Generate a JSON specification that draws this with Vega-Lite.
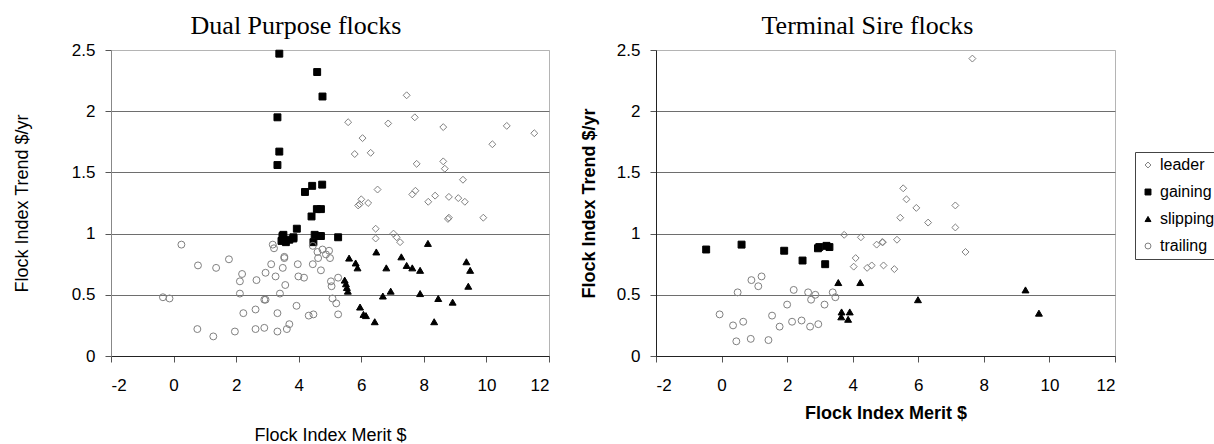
{
  "$schema": "https://vega.github.io/schema/vega-lite/v6.json",
  "padding": {"left": 12, "top": 12, "right": 0, "bottom": 0},
  "background": "white",
  "config": {
    "font": "Liberation Sans",
    "view": {"stroke": "#b4b4b4", "strokeWidth": 1},
    "title": {"font": "Liberation Serif", "fontSize": 26, "fontWeight": "normal", "color": "black", "anchor": "middle", "frame": "group", "offset": 2},
    "axis": {"labelFont": "Liberation Sans", "labelFontSize": 17, "labelColor": "black", "titleFont": "Liberation Sans", "titleFontSize": 18, "titleColor": "black", "titleFontWeight": "normal", "tickColor": "#555", "tickSize": 6, "domainColor": "#444", "labelPadding": 10},
    "axisX": {"labelPadding": 15},
    "legend": {"labelFont": "Liberation Sans", "labelFontSize": 16, "labelColor": "black"}
  },
  "data": {"values": [
    {"panel":"DP","group":"gaining","merit":3.38,"trend":2.47},{"panel":"DP","group":"gaining","merit":4.59,"trend":2.32},{"panel":"DP","group":"gaining","merit":4.76,"trend":2.12},{"panel":"DP","group":"gaining","merit":3.32,"trend":1.95},{"panel":"DP","group":"gaining","merit":3.38,"trend":1.67},{"panel":"DP","group":"gaining","merit":3.32,"trend":1.56},{"panel":"DP","group":"gaining","merit":4.2,"trend":1.34},{"panel":"DP","group":"gaining","merit":4.43,"trend":1.39},{"panel":"DP","group":"gaining","merit":4.75,"trend":1.4},{"panel":"DP","group":"gaining","merit":4.41,"trend":1.14},{"panel":"DP","group":"gaining","merit":4.58,"trend":1.2},{"panel":"DP","group":"gaining","merit":4.71,"trend":1.2},{"panel":"DP","group":"gaining","merit":3.51,"trend":0.99},{"panel":"DP","group":"gaining","merit":3.83,"trend":0.97},{"panel":"DP","group":"gaining","merit":3.94,"trend":1.04},{"panel":"DP","group":"gaining","merit":4.51,"trend":0.99},{"panel":"DP","group":"gaining","merit":3.48,"trend":0.98},{"panel":"DP","group":"gaining","merit":3.59,"trend":0.93},{"panel":"DP","group":"gaining","merit":3.83,"trend":0.96},{"panel":"DP","group":"gaining","merit":4.47,"trend":0.93},{"panel":"DP","group":"gaining","merit":4.65,"trend":0.98},{"panel":"DP","group":"gaining","merit":4.71,"trend":0.98},{"panel":"DP","group":"gaining","merit":5.26,"trend":0.97},{"panel":"DP","group":"gaining","merit":3.45,"trend":0.94},{"panel":"DP","group":"gaining","merit":3.7,"trend":0.95},
    {"panel":"DP","group":"leader","merit":7.45,"trend":2.13},{"panel":"DP","group":"leader","merit":5.58,"trend":1.91},{"panel":"DP","group":"leader","merit":6.86,"trend":1.9},{"panel":"DP","group":"leader","merit":7.71,"trend":1.95},{"panel":"DP","group":"leader","merit":8.62,"trend":1.87},{"panel":"DP","group":"leader","merit":10.65,"trend":1.88},{"panel":"DP","group":"leader","merit":11.53,"trend":1.82},{"panel":"DP","group":"leader","merit":6.04,"trend":1.78},{"panel":"DP","group":"leader","merit":5.79,"trend":1.65},{"panel":"DP","group":"leader","merit":6.3,"trend":1.66},{"panel":"DP","group":"leader","merit":10.19,"trend":1.73},{"panel":"DP","group":"leader","merit":7.77,"trend":1.57},{"panel":"DP","group":"leader","merit":8.62,"trend":1.59},{"panel":"DP","group":"leader","merit":8.67,"trend":1.53},{"panel":"DP","group":"leader","merit":9.25,"trend":1.44},{"panel":"DP","group":"leader","merit":6.52,"trend":1.36},{"panel":"DP","group":"leader","merit":7.63,"trend":1.32},{"panel":"DP","group":"leader","merit":7.73,"trend":1.35},{"panel":"DP","group":"leader","merit":6.0,"trend":1.28},{"panel":"DP","group":"leader","merit":5.9,"trend":1.23},{"panel":"DP","group":"leader","merit":6.22,"trend":1.25},{"panel":"DP","group":"leader","merit":5.95,"trend":1.24},{"panel":"DP","group":"leader","merit":8.14,"trend":1.26},{"panel":"DP","group":"leader","merit":8.36,"trend":1.31},{"panel":"DP","group":"leader","merit":8.8,"trend":1.3},{"panel":"DP","group":"leader","merit":9.1,"trend":1.29},{"panel":"DP","group":"leader","merit":9.31,"trend":1.26},{"panel":"DP","group":"leader","merit":8.77,"trend":1.12},{"panel":"DP","group":"leader","merit":8.8,"trend":1.13},{"panel":"DP","group":"leader","merit":9.9,"trend":1.13},{"panel":"DP","group":"leader","merit":6.46,"trend":1.04},{"panel":"DP","group":"leader","merit":6.46,"trend":0.96},{"panel":"DP","group":"leader","merit":7.03,"trend":1.0},{"panel":"DP","group":"leader","merit":7.13,"trend":0.97},{"panel":"DP","group":"leader","merit":7.24,"trend":0.93},
    {"panel":"DP","group":"slipping","merit":8.13,"trend":0.92},{"panel":"DP","group":"slipping","merit":6.48,"trend":0.85},{"panel":"DP","group":"slipping","merit":5.61,"trend":0.8},{"panel":"DP","group":"slipping","merit":5.82,"trend":0.76},{"panel":"DP","group":"slipping","merit":5.88,"trend":0.72},{"panel":"DP","group":"slipping","merit":7.28,"trend":0.81},{"panel":"DP","group":"slipping","merit":6.8,"trend":0.72},{"panel":"DP","group":"slipping","merit":7.45,"trend":0.74},{"panel":"DP","group":"slipping","merit":7.63,"trend":0.72},{"panel":"DP","group":"slipping","merit":7.88,"trend":0.7},{"panel":"DP","group":"slipping","merit":9.36,"trend":0.77},{"panel":"DP","group":"slipping","merit":9.48,"trend":0.7},{"panel":"DP","group":"slipping","merit":9.42,"trend":0.57},{"panel":"DP","group":"slipping","merit":5.47,"trend":0.62},{"panel":"DP","group":"slipping","merit":5.51,"trend":0.59},{"panel":"DP","group":"slipping","merit":5.54,"trend":0.56},{"panel":"DP","group":"slipping","merit":5.57,"trend":0.53},{"panel":"DP","group":"slipping","merit":6.94,"trend":0.53},{"panel":"DP","group":"slipping","merit":6.69,"trend":0.49},{"panel":"DP","group":"slipping","merit":7.88,"trend":0.51},{"panel":"DP","group":"slipping","merit":8.46,"trend":0.47},{"panel":"DP","group":"slipping","merit":8.92,"trend":0.44},{"panel":"DP","group":"slipping","merit":5.96,"trend":0.4},{"panel":"DP","group":"slipping","merit":6.07,"trend":0.34},{"panel":"DP","group":"slipping","merit":6.15,"trend":0.33},{"panel":"DP","group":"slipping","merit":6.43,"trend":0.28},{"panel":"DP","group":"slipping","merit":8.33,"trend":0.28},
    {"panel":"DP","group":"trailing","merit":0.25,"trend":0.91},{"panel":"DP","group":"trailing","merit":-0.34,"trend":0.48},{"panel":"DP","group":"trailing","merit":-0.13,"trend":0.47},{"panel":"DP","group":"trailing","merit":0.78,"trend":0.74},{"panel":"DP","group":"trailing","merit":1.36,"trend":0.72},{"panel":"DP","group":"trailing","merit":1.77,"trend":0.79},{"panel":"DP","group":"trailing","merit":0.76,"trend":0.22},{"panel":"DP","group":"trailing","merit":1.27,"trend":0.16},{"panel":"DP","group":"trailing","merit":1.96,"trend":0.2},{"panel":"DP","group":"trailing","merit":2.19,"trend":0.67},{"panel":"DP","group":"trailing","merit":2.12,"trend":0.61},{"panel":"DP","group":"trailing","merit":2.12,"trend":0.51},{"panel":"DP","group":"trailing","merit":2.23,"trend":0.35},{"panel":"DP","group":"trailing","merit":2.65,"trend":0.62},{"panel":"DP","group":"trailing","merit":2.62,"trend":0.38},{"panel":"DP","group":"trailing","merit":2.62,"trend":0.22},{"panel":"DP","group":"trailing","merit":2.9,"trend":0.23},{"panel":"DP","group":"trailing","merit":2.94,"trend":0.68},{"panel":"DP","group":"trailing","merit":2.9,"trend":0.46},{"panel":"DP","group":"trailing","merit":2.94,"trend":0.46},{"panel":"DP","group":"trailing","merit":3.12,"trend":0.75},{"panel":"DP","group":"trailing","merit":3.17,"trend":0.91},{"panel":"DP","group":"trailing","merit":3.21,"trend":0.88},{"panel":"DP","group":"trailing","merit":3.26,"trend":0.65},{"panel":"DP","group":"trailing","merit":3.4,"trend":0.51},{"panel":"DP","group":"trailing","merit":3.32,"trend":0.35},{"panel":"DP","group":"trailing","merit":3.32,"trend":0.2},{"panel":"DP","group":"trailing","merit":3.49,"trend":0.72},{"panel":"DP","group":"trailing","merit":3.54,"trend":0.81},{"panel":"DP","group":"trailing","merit":3.54,"trend":0.8},{"panel":"DP","group":"trailing","merit":3.57,"trend":0.58},{"panel":"DP","group":"trailing","merit":3.62,"trend":0.22},{"panel":"DP","group":"trailing","merit":3.7,"trend":0.26},{"panel":"DP","group":"trailing","merit":3.97,"trend":0.75},{"panel":"DP","group":"trailing","merit":3.99,"trend":0.65},{"panel":"DP","group":"trailing","merit":4.17,"trend":0.64},{"panel":"DP","group":"trailing","merit":3.93,"trend":0.41},{"panel":"DP","group":"trailing","merit":4.32,"trend":0.33},{"panel":"DP","group":"trailing","merit":4.47,"trend":0.34},{"panel":"DP","group":"trailing","merit":4.45,"trend":0.75},{"panel":"DP","group":"trailing","merit":4.45,"trend":0.9},{"panel":"DP","group":"trailing","merit":4.6,"trend":0.85},{"panel":"DP","group":"trailing","merit":4.62,"trend":0.8},{"panel":"DP","group":"trailing","merit":4.71,"trend":0.7},{"panel":"DP","group":"trailing","merit":4.76,"trend":0.87},{"panel":"DP","group":"trailing","merit":4.97,"trend":0.86},{"panel":"DP","group":"trailing","merit":4.87,"trend":0.83},{"panel":"DP","group":"trailing","merit":5.0,"trend":0.8},{"panel":"DP","group":"trailing","merit":5.03,"trend":0.61},{"panel":"DP","group":"trailing","merit":5.05,"trend":0.57},{"panel":"DP","group":"trailing","merit":5.26,"trend":0.64},{"panel":"DP","group":"trailing","merit":5.08,"trend":0.47},{"panel":"DP","group":"trailing","merit":5.2,"trend":0.43},{"panel":"DP","group":"trailing","merit":5.26,"trend":0.34},
    {"panel":"TS","group":"gaining","merit":-0.47,"trend":0.87},{"panel":"TS","group":"gaining","merit":0.61,"trend":0.91},{"panel":"TS","group":"gaining","merit":1.91,"trend":0.86},{"panel":"TS","group":"gaining","merit":2.47,"trend":0.78},{"panel":"TS","group":"gaining","merit":2.94,"trend":0.88},{"panel":"TS","group":"gaining","merit":2.98,"trend":0.89},{"panel":"TS","group":"gaining","merit":3.2,"trend":0.9},{"panel":"TS","group":"gaining","merit":3.29,"trend":0.89},{"panel":"TS","group":"gaining","merit":3.16,"trend":0.75},
    {"panel":"TS","group":"leader","merit":7.65,"trend":2.43},{"panel":"TS","group":"leader","merit":5.54,"trend":1.37},{"panel":"TS","group":"leader","merit":5.64,"trend":1.28},{"panel":"TS","group":"leader","merit":5.94,"trend":1.21},{"panel":"TS","group":"leader","merit":5.45,"trend":1.13},{"panel":"TS","group":"leader","merit":6.3,"trend":1.09},{"panel":"TS","group":"leader","merit":7.13,"trend":1.23},{"panel":"TS","group":"leader","merit":7.13,"trend":1.05},{"panel":"TS","group":"leader","merit":4.92,"trend":0.93},{"panel":"TS","group":"leader","merit":5.35,"trend":0.95},{"panel":"TS","group":"leader","merit":7.44,"trend":0.85},{"panel":"TS","group":"leader","merit":4.94,"trend":0.74},{"panel":"TS","group":"leader","merit":5.27,"trend":0.71},{"panel":"TS","group":"leader","merit":3.74,"trend":0.99},{"panel":"TS","group":"leader","merit":4.25,"trend":0.97},{"panel":"TS","group":"leader","merit":4.73,"trend":0.91},{"panel":"TS","group":"leader","merit":4.9,"trend":0.93},{"panel":"TS","group":"leader","merit":4.09,"trend":0.8},{"panel":"TS","group":"leader","merit":4.03,"trend":0.73},{"panel":"TS","group":"leader","merit":4.44,"trend":0.72},{"panel":"TS","group":"leader","merit":4.58,"trend":0.74},
    {"panel":"TS","group":"slipping","merit":5.99,"trend":0.46},{"panel":"TS","group":"slipping","merit":9.27,"trend":0.54},{"panel":"TS","group":"slipping","merit":9.68,"trend":0.35},{"panel":"TS","group":"slipping","merit":3.56,"trend":0.6},{"panel":"TS","group":"slipping","merit":4.23,"trend":0.6},{"panel":"TS","group":"slipping","merit":3.66,"trend":0.36},{"panel":"TS","group":"slipping","merit":3.91,"trend":0.36},{"panel":"TS","group":"slipping","merit":3.65,"trend":0.32},{"panel":"TS","group":"slipping","merit":3.86,"trend":0.3},
    {"panel":"TS","group":"trailing","merit":-0.06,"trend":0.34},{"panel":"TS","group":"trailing","merit":0.35,"trend":0.25},{"panel":"TS","group":"trailing","merit":0.45,"trend":0.12},{"panel":"TS","group":"trailing","merit":0.49,"trend":0.52},{"panel":"TS","group":"trailing","merit":0.66,"trend":0.28},{"panel":"TS","group":"trailing","merit":0.89,"trend":0.14},{"panel":"TS","group":"trailing","merit":0.91,"trend":0.62},{"panel":"TS","group":"trailing","merit":1.12,"trend":0.57},{"panel":"TS","group":"trailing","merit":1.22,"trend":0.65},{"panel":"TS","group":"trailing","merit":1.43,"trend":0.13},{"panel":"TS","group":"trailing","merit":1.54,"trend":0.33},{"panel":"TS","group":"trailing","merit":1.77,"trend":0.24},{"panel":"TS","group":"trailing","merit":2.0,"trend":0.42},{"panel":"TS","group":"trailing","merit":2.15,"trend":0.28},{"panel":"TS","group":"trailing","merit":2.2,"trend":0.54},{"panel":"TS","group":"trailing","merit":2.44,"trend":0.29},{"panel":"TS","group":"trailing","merit":2.64,"trend":0.52},{"panel":"TS","group":"trailing","merit":2.7,"trend":0.24},{"panel":"TS","group":"trailing","merit":2.73,"trend":0.46},{"panel":"TS","group":"trailing","merit":2.86,"trend":0.5},{"panel":"TS","group":"trailing","merit":2.95,"trend":0.26},{"panel":"TS","group":"trailing","merit":3.14,"trend":0.42},{"panel":"TS","group":"trailing","merit":3.39,"trend":0.52},{"panel":"TS","group":"trailing","merit":3.47,"trend":0.48}
  ]},
  "bounds": "flush",
  "spacing": 107,
  "hconcat": [
    {
      "width": 438, "height": 306,
      "title": {"text": "Dual Purpose flocks", "dx": -34},
      "transform": [{"filter": "datum.panel == 'DP'"}],
      "mark": {"type": "point", "strokeWidth": 1, "opacity": 1, "size": 48},
      "encoding": {
        "x": {"field": "merit", "type": "quantitative", "scale": {"domain": [-2, 12], "nice": false, "zero": false},
              "axis": {"title": "Flock Index Merit $", "values": [-2,0,2,4,6,8,10,12], "labelExpr": "'' + datum.value", "grid": false, "titlePadding": 33, "domainColor": "#222"}},
        "y": {"field": "trend", "type": "quantitative", "scale": {"domain": [0, 2.5], "nice": false},
              "axis": {"title": "Flock Index Trend $/yr", "values": [0,0.5,1,1.5,2,2.5], "labelExpr": "'' + datum.value", "grid": true, "gridColor": {"condition": {"test": "datum.value == 2.5", "value": "#b4b4b4"}, "value": "#6e6e6e"}, "titlePadding": 40, "domainColor": "#888"}},
        "shape": {"field": "group", "type": "nominal", "title": null, "scale": {"domain": ["leader","gaining","slipping","trailing"], "range": ["diamond","square","triangle-up","circle"]},
                  "legend": {"orient": "none", "legendX": 1024, "legendY": 102, "strokeColor": "#444", "padding": 5, "symbolSize": 35, "symbolStrokeWidth": 1, "rowPadding": 11, "labelOffset": 4, "symbolOffset": 0}},
        "fill": {"field": "group", "type": "nominal", "title": null, "scale": {"domain": ["leader","gaining","slipping","trailing"], "range": ["transparent","black","black","transparent"]}},
        "stroke": {"field": "group", "type": "nominal", "title": null, "scale": {"domain": ["leader","gaining","slipping","trailing"], "range": ["#808080","black","black","#808080"]}}
      }
    },
    {
      "width": 459, "height": 306,
      "title": {"text": "Terminal Sire flocks", "dx": -18},
      "transform": [{"filter": "datum.panel == 'TS'"}],
      "mark": {"type": "point", "strokeWidth": 1, "opacity": 1, "size": 48},
      "encoding": {
        "x": {"field": "merit", "type": "quantitative", "scale": {"domain": [-2, 12], "nice": false, "zero": false},
              "axis": {"title": "Flock Index Merit $", "titleFontWeight": "bold", "values": [-2,0,2,4,6,8,10,12], "labelExpr": "'' + datum.value", "grid": false, "titlePadding": 11, "domainColor": "#222"}},
        "y": {"field": "trend", "type": "quantitative", "scale": {"domain": [0, 2.5], "nice": false},
              "axis": {"title": "Flock Index Trend $/yr", "titleFontWeight": "bold", "values": [0,0.5,1,1.5,2,2.5], "labelExpr": "'' + datum.value", "grid": true, "gridColor": {"condition": {"test": "datum.value == 2.5", "value": "#b4b4b4"}, "value": "#6e6e6e"}, "titlePadding": 18, "domainColor": "#222"}},
        "shape": {"field": "group", "type": "nominal", "title": null, "scale": {"domain": ["leader","gaining","slipping","trailing"], "range": ["diamond","square","triangle-up","circle"]},
                  "legend": {"orient": "none", "legendX": 1024, "legendY": 102, "strokeColor": "#444", "padding": 5, "symbolSize": 35, "symbolStrokeWidth": 1, "rowPadding": 11, "labelOffset": 4, "symbolOffset": 0}},
        "fill": {"field": "group", "type": "nominal", "title": null, "scale": {"domain": ["leader","gaining","slipping","trailing"], "range": ["transparent","black","black","transparent"]}},
        "stroke": {"field": "group", "type": "nominal", "title": null, "scale": {"domain": ["leader","gaining","slipping","trailing"], "range": ["#808080","black","black","#808080"]}}
      }
    }
  ]
}
